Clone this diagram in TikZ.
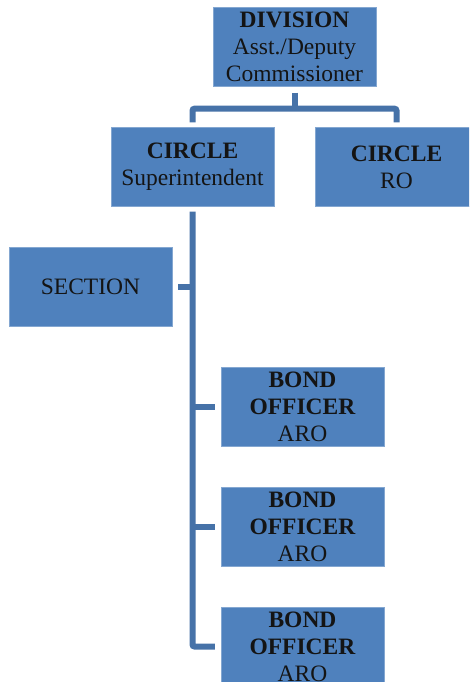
\documentclass[tikz,border=0pt]{standalone}
\usepackage{fontspec}
\setmainfont{Liberation Serif}
\usetikzlibrary{calc}
\definecolor{boxc}{RGB}{79,129,189}
\definecolor{linec}{RGB}{70,114,168}
\definecolor{textc}{RGB}{20,20,20}
\tikzset{
  box/.style={fill=boxc,draw=boxc!70!white,line width=0.4pt,
    minimum width=163pt,minimum height=79pt,inner sep=0pt,
    text width=163pt,align=center,text=textc,
    font=\fontsize{23.5}{27}\selectfont},
  link/.style={draw=linec,line width=6pt,rounded corners=2pt}
}
\begin{document}
\begin{tikzpicture}
        [x=1pt,y=-1pt]
        \clip (0,0) rectangle (469,682);
        \useasboundingbox (0,0) rectangle (469,682);

        \node[box] (div) at (294.5,47) {\textbf{DIVISION}\\Asst./Deputy\\Commissioner};
        \node[box] (sup) at (192.5,167) {\textbf{CIRCLE}\\Superintendent};
        \node[box] (ro) at (396.5,167) {\textbf{CIRCLE}\\RO};
        \node[box] (sec) at (90.5,287) {SECTION};

        \node[box] (bo1) at (302.5,406.5) {\textbf{BOND}\\\textbf{OFFICER}\\ARO};
        \node[box] (bo2) at (302.5,527) {\textbf{BOND}\\\textbf{OFFICER}\\ARO};
        \node[box] (bo3) at (302.5,646.5) {\textbf{BOND}\\\textbf{OFFICER}\\ARO};

        % division to circles
        \draw[link] ($(div.south)+(0,6)$) -- ($(div.south)+(0,22)$);
        \draw[link] ($(sup.north)+(0,-5)$) |- ($(div.south)+(0,22)$)
          -| ($(ro.north)+(0,-5)$);

        % superintendent trunk
        \draw[link] ($(sup.south)+(0,5)$) |- ($(bo3.west)+(-6,0)$);
        \draw[link] (sup.south |- sec.east) -- ($(sec.east)+(6,0)$);
        \draw[link] (sup.south |- bo1.west) -- ($(bo1.west)+(-6,0)$);
        \draw[link] (sup.south |- bo2.west) -- ($(bo2.west)+(-6,0)$);
      \end{tikzpicture}
\end{document}
